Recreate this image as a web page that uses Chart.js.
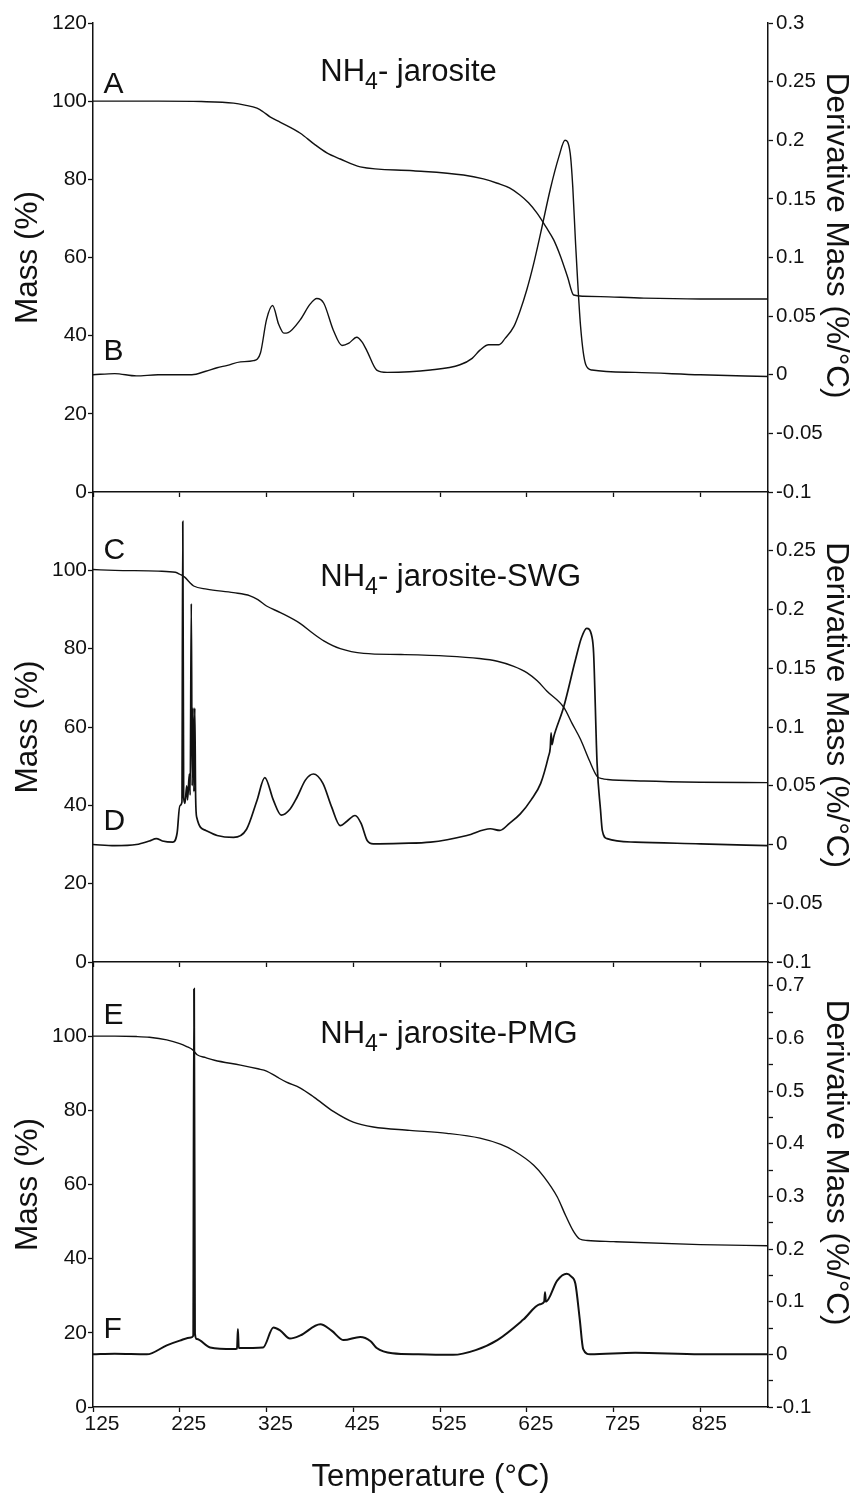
<!DOCTYPE html>
<html>
<head>
<meta charset="utf-8">
<script src="https://cdn.jsdelivr.net/npm/chart.js@4.4.0/dist/chart.umd.min.js"></script>
<style>
html,body{margin:0;padding:0;background:#fff;}
#wrap{position:relative;width:855px;height:1502px;}
canvas{position:absolute;left:0;top:0;}
</style>
</head>
<body>
<div id="wrap">
<canvas id="p1" width="855" height="1502"></canvas>
<canvas id="p2" width="855" height="1502"></canvas>
<canvas id="p3" width="855" height="1502"></canvas>
</div>
<script>
// Axis ticks
const xTicks=[125,225,325,425,525,625,725,825];
const massTicks1=[0,20,40,60,80,100,120];
const massTicks=[0,20,40,60,80,100];
const derivTicks1=[-0.1,-0.05,0,0.05,0.1,0.15,0.2,0.25,0.3];
const derivTicks2=[-0.1,-0.05,0,0.05,0.1,0.15,0.2,0.25];
const derivTicks3=[-0.1,-0.05,0,0.05,0.1,0.15,0.2,0.25,0.3,0.35,0.4,0.45,0.5,0.55,0.6,0.65,0.7];

// NH4-jarosite: mass (A) and derivative (B)
const tempA=[125,200,250,287,300,314,321,329,341,364,380,395,410,433,494,552,575,591,605,617,627,637,648,656,664,672,679,690,710,760,825,903];
const massA=[100,100,99.9,99.5,99.0,98.2,97.3,96.0,94.6,91.8,89.0,86.7,85.2,83.2,82.2,81.1,80.1,79.0,77.8,76.0,74.0,71.3,67.5,64.5,60.2,55.0,50.4,50.1,50.0,49.6,49.4,49.4];
const tempB=[125,150,175,200,239,255,268,280,295,310,318,325,332,339,345,350,364,375,383,391,402,412,420,429,435,441,452,464,514,548,562,571,581,593,600,610,617,625,633,641,652,662,669,675,678,681,687,693,700,750,825,903];
const derivB=[0,0.001,-0.001,0,0,0.003,0.006,0.008,0.011,0.012,0.0185,0.047,0.059,0.043,0.0355,0.036,0.047,0.060,0.065,0.061,0.038,0.025,0.027,0.032,0.028,0.020,0.004,0.002,0.004,0.0085,0.014,0.021,0.0256,0.0256,0.031,0.041,0.054,0.0725,0.095,0.121,0.158,0.186,0.200,0.189,0.160,0.115,0.041,0.0085,0.004,0.002,0,-0.0015];

// NH4-jarosite-SWG: mass (C) and derivative (D)
const tempC=[125,150,200,220,225,231,236,241,256,287,306,315,325,341,364,378,391,410,437,480,533,570,591,610,625,637,648,668,677,687,697,706,712,718,760,825,903];
const massC=[100.2,100,99.8,99.5,99.0,98.2,97.0,96.0,95.2,94.3,93.5,92.5,90.9,89.2,86.4,84.0,82.0,80.0,78.8,78.5,78.1,77.5,76.8,75.5,73.9,71.8,69.2,64.9,61.0,56.8,51.5,47.4,46.8,46.6,46.2,45.9,45.8];
const tempD=[125,150,175,190,198,205,217,222,225,227.5,228.5,229.5,231,233,234,236,237,238.3,239.3,240.3,241.3,242.3,243.3,244.6,255,268,287,302,314,323,333,342,352,360,370,379,390,400,410,418,427,434,441,448,480,514,556,583,594,605,617.5,630,641,650,652,653,654,656,667.5,681,688,694,700,702,706,710,712,717.5,750,825,903];
const derivD=[0,-0.001,0,0.003,0.005,0.003,0.002,0.01,0.033,0.036,0.275,0.04,0.035,0.05,0.038,0.06,0.042,0.205,0.05,0.116,0.045,0.116,0.04,0.023,0.012,0.0077,0.006,0.013,0.0375,0.057,0.0375,0.025,0.03,0.04,0.055,0.060,0.052,0.032,0.016,0.02,0.0247,0.018,0.0034,0.0006,0.001,0.002,0.0077,0.0134,0.012,0.018,0.026,0.038,0.052,0.075,0.082,0.095,0.085,0.0915,0.117,0.157,0.176,0.184,0.177,0.163,0.069,0.029,0.012,0.005,0.002,0.0006,-0.001];

// NH4-jarosite-PMG: mass (E) and derivative (F)
const tempE=[125,150,175,190,210,225,233,240,245,255,265,295,315,325,337,348,364,380,402,425,448,490,533,571,595,610,633,645,660,670,679,686,695,725,825,903];
const massE=[100,100,99.9,99.7,99.0,98.0,97.2,96.3,95.0,94.2,93.5,92.2,91.2,90.6,89.0,87.6,86.0,83.5,79.7,76.8,75.5,74.6,73.8,72.5,70.8,69.1,65.2,62.0,56.7,51.5,47.3,45.3,44.9,44.6,43.8,43.5];
const tempF=[125,150,187,210,225,238,240.5,241.5,242.5,244.6,260,287,291,292,293,321,333,341,352,364,387,400,414,433,445,452,470,500,540,566,591,621,640,645,646,647,660,671,676,681,686,690,698,750,825,903];
const derivF=[0,0.001,0,0.017,0.026,0.032,0.035,0.694,0.04,0.029,0.013,0.01,0.011,0.048,0.012,0.013,0.051,0.045,0.03,0.036,0.057,0.045,0.027,0.033,0.025,0.012,0.002,0,-0.001,0.008,0.027,0.066,0.095,0.10,0.118,0.10,0.14,0.153,0.148,0.134,0.067,0.01,0,0.003,0,0];

const FONT="'Liberation Sans', Arial, sans-serif";
const INK="#111";
const zip=(xs,ys)=>xs.map((x,i)=>({x:x,y:ys[i]}));
const fixW=w=>s=>{s.width=w;};
const fixH=h=>s=>{s.height=h;};
const setTicks=vals=>s=>{s.ticks=vals.map(v=>({value:v}));};

// letters and panel titles, placed in data units (x: °C, y: mass %)
const panelText={id:'panelText',afterDatasetsDraw(chart,args,opts){
  const {ctx}=chart,x=chart.scales.x,y=chart.scales.y;
  ctx.save();ctx.fillStyle=INK;ctx.textBaseline='alphabetic';ctx.textAlign='left';
  opts.items.forEach(it=>{
    let px=x.getPixelForValue(it.x);const py=y.getPixelForValue(it.y);
    it.parts.forEach(p=>{ctx.font=p.size+'px '+FONT;ctx.fillText(p.t,px,py+(p.dy||0));px+=ctx.measureText(p.t).width;});
  });
  ctx.restore();
}};
const title=name=>[{t:'NH',size:31},{t:'4',size:23,dy:8},{t:'- '+name,size:31}];

function panel(id,cfg){
  new Chart(document.getElementById(id),{
    type:'line',
    data:{datasets:[
      {data:zip(cfg.tm,cfg.mass),yAxisID:'y',borderWidth:1.4},
      {data:zip(cfg.td,cfg.deriv),yAxisID:'y1',borderWidth:cfg.dw}
    ]},
    options:{
      responsive:false,animation:false,
      layout:{padding:{top:cfg.top,bottom:cfg.bottom,left:0,right:0}},
      elements:{point:{radius:0},line:{borderColor:INK,cubicInterpolationMode:'monotone',fill:false}},
      plugins:{legend:{display:false},tooltip:{enabled:false},panelText:{items:cfg.text}},
      scales:{
        x:{type:'linear',min:125,max:903,afterBuildTicks:setTicks(xTicks),afterFit:fixH(cfg.xh),
          grid:{drawOnChartArea:false,tickLength:5,color:INK,tickWidth:1.3},border:{color:INK,width:1.5},
          ticks:{display:cfg.showX,autoSkip:false,maxRotation:0,labelOffset:9,padding:0,color:INK,font:{family:FONT,size:21}},
          title:{display:cfg.showX,text:'Temperature (°C)',color:INK,font:{family:FONT,size:31},padding:{top:0,bottom:6}}},
        y:{position:'left',min:0,max:120,afterBuildTicks:setTicks(cfg.mt),afterFit:fixW(93),
          grid:{drawOnChartArea:false,tickLength:5,color:INK,tickWidth:1.3},border:{color:INK,width:1.5},
          ticks:{padding:1,color:INK,font:{family:FONT,size:21},callback:v=>String(v)},
          title:{display:true,text:'Mass (%)',color:INK,font:{family:FONT,size:31.5},padding:{top:9,bottom:0}}},
        y1:{position:'right',min:-0.1,max:cfg.dmax,afterBuildTicks:setTicks(cfg.dt),afterFit:fixW(87),
          grid:{drawOnChartArea:false,tickLength:5,color:INK,tickWidth:1.3},border:{color:INK,width:1.5},
          ticks:{padding:3,color:INK,font:{family:FONT,size:20.5},
            callback:v=>(cfg.labelEvery&&Math.abs(v*10-Math.round(v*10))>1e-6)?'':String(+v.toFixed(2))},
          title:{display:true,text:'Derivative Mass (%/°C)     ',color:INK,font:{family:FONT,size:31.5},padding:{top:0,bottom:0}}}
      }
    },
    plugins:[panelText]
  });
}

panel('p1',{tm:tempA,mass:massA,td:tempB,deriv:derivB,dw:1.4,top:23,bottom:1002,xh:8,showX:false,
  mt:massTicks1,dt:derivTicks1,dmax:0.3,
  text:[{x:137,y:102.1,parts:[{t:'A',size:30}]},{x:137,y:33.8,parts:[{t:'B',size:30}]},{x:387,y:105.2,parts:title('jarosite')}]});
panel('p2',{tm:tempC,mass:massC,td:tempD,deriv:derivD,dw:1.7,top:492,bottom:532,xh:8,showX:false,
  mt:massTicks,dt:derivTicks2,dmax:0.3,
  text:[{x:137,y:102.9,parts:[{t:'C',size:30}]},{x:137,y:33.8,parts:[{t:'D',size:30}]},{x:387,y:96.0,parts:title('jarosite-SWG')}]});
panel('p3',{tm:tempE,mass:massE,td:tempF,deriv:derivF,dw:2,top:962,bottom:0,xh:95,showX:true,
  mt:massTicks,dt:derivTicks3,dmax:0.745,labelEvery:true,
  text:[{x:137,y:103.3,parts:[{t:'E',size:30}]},{x:137,y:18.6,parts:[{t:'F',size:30}]},{x:387,y:98.2,parts:title('jarosite-PMG')}]});
</script>
</body>
</html>
